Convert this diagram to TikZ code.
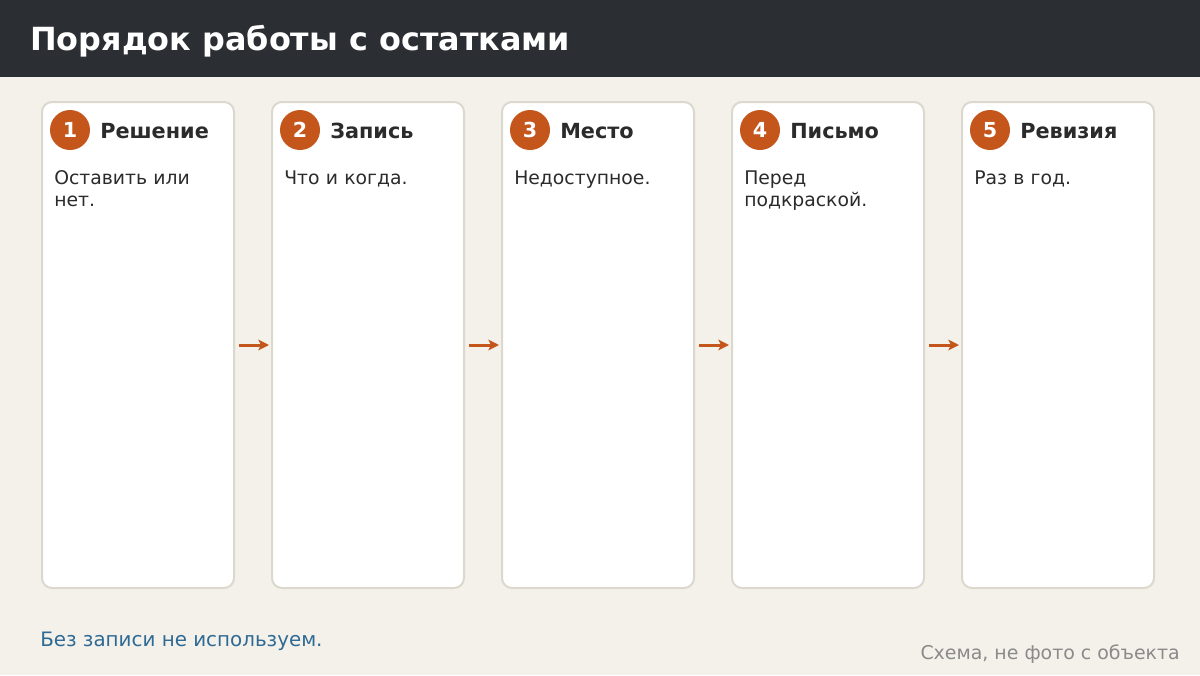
\documentclass[tikz,border=0pt]{standalone}
\usepackage{fontspec}
\setmainfont{DejaVu Sans}
\usepackage{tikz}
\usetikzlibrary{positioning,arrows.meta}
\definecolor{pagebg}{HTML}{F4F1EA}
\definecolor{barbg}{HTML}{2B2E33}
\definecolor{rust}{HTML}{C4561C}
\definecolor{cardline}{HTML}{DDD8CE}
\definecolor{ink}{HTML}{2B2B2B}
\definecolor{noteblue}{HTML}{2E6A94}
\definecolor{notegray}{HTML}{8A8A8A}
\tikzset{
  card/.style={draw=cardline,fill=white,line width=1.5pt,rounded corners=7.5pt,
    minimum width=144pt,minimum height=364.5pt,inner sep=0pt},
  num/.style={circle,fill=rust,text=white,minimum size=30pt,inner sep=0pt,
    font=\fontsize{15.5pt}{15.5pt}\selectfont\bfseries},
  head/.style={anchor=base west,inner sep=0pt,text=ink,
    font=\fontsize{15.6pt}{17pt}\selectfont\bfseries},
  body/.style={anchor=base west,inner sep=0pt,text=ink,align=left,text width=130pt,
    font=\fontsize{14.1pt}{17pt}\selectfont},
  arr/.style={draw=rust,line width=2.25pt,-{Stealth[length=8pt,width=8pt,inset=2pt]},
    shorten <=3pt,shorten >=1.5pt}
}

\begin{document}
\begin{tikzpicture}[x=0.75pt,y=-0.75pt]
	
	% page and title bar
	\fill[pagebg] (0,0) rectangle (1200,675);
	\fill[barbg] (0,0) rectangle (1200,77);
	\node[anchor=base west,inner sep=0pt,text=white,font=\fontsize{23.9pt}{28pt}\selectfont\bfseries]
		(title) at (30,50) {Порядок работы с остатками};
	
	% cards
	\node[card] (c1) at (138,345) {};
	\node[card] (c2) at (368,345) {};
	\node[card] (c3) at (598,345) {};
	\node[card] (c4) at (828,345) {};
	\node[card] (c5) at (1058,345) {};
	
	\node[num] (n1) at (70,130) {1};
	\node[num] (n2) at (300,130) {2};
	\node[num] (n3) at (530,130) {3};
	\node[num] (n4) at (760,130) {4};
	\node[num] (n5) at (990,130) {5};
	
	\node[head] (h1) at (100,138) {Решение};
	\node[head] (h2) at (330,138) {Запись};
	\node[head] (h3) at (560,138) {Место};
	\node[head] (h4) at (790,138) {Письмо};
	\node[head] (h5) at (1020,138) {Ревизия};
	
	\node[body] (b1) at (54,184) {Оставить или\\нет.};
	\node[body] (b2) at (284,184) {Что и когда.};
	\node[body] (b3) at (514,184) {Недоступное.};
	\node[body] (b4) at (744,184) {Перед\\подкраской.};
	\node[body] (b5) at (974,184) {Раз в год.};
	
	\draw[arr] (c1.east) -- (c2.west);
	\draw[arr] (c2.east) -- (c3.west);
	\draw[arr] (c3.east) -- (c4.west);
	\draw[arr] (c4.east) -- (c5.west);
	
	% notes
	\node[anchor=base west,inner sep=0pt,text=noteblue,font=\fontsize{14.9pt}{16pt}\selectfont]
		(note) at (40,646) {Без записи не используем.};
	\node[anchor=base east,inner sep=0pt,text=notegray,font=\fontsize{14.2pt}{15pt}\selectfont]
		(credit) at (1180,659) {Схема, не фото с объекта};
	
\end{tikzpicture}
\end{document}
